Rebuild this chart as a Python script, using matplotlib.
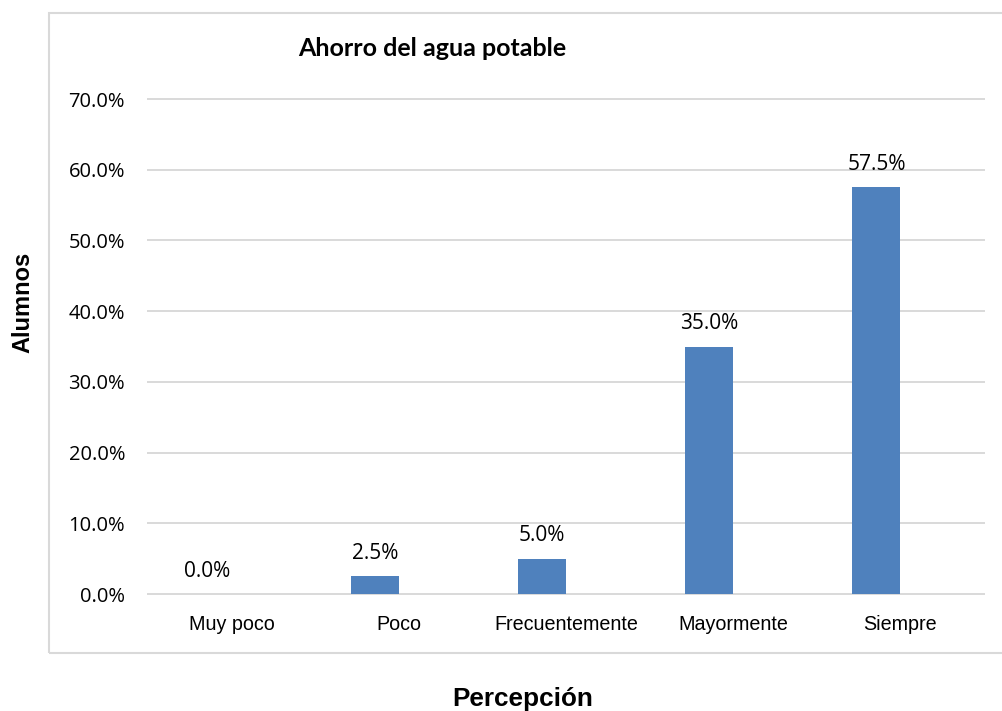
import matplotlib
matplotlib.use("Agg")
import matplotlib.pyplot as plt
from matplotlib import font_manager
from matplotlib.patches import Rectangle
from matplotlib.ticker import FuncFormatter

# data
categories = ["Muy poco", "Poco", "Frecuentemente", "Mayormente", "Siempre"]
values = [0.0, 0.025, 0.05, 0.35, 0.575]
y_ticks = [0.0, 0.1, 0.2, 0.3, 0.4, 0.5, 0.6, 0.7]

title = "Ahorro del agua potable"
x_title = "Percepción"
y_title = "Alumnos"

BAR_COLOR = "#4F81BD"
GRID_COLOR = "#D9D9D9"


def pick_font(*names):
    installed = {f.name for f in font_manager.fontManager.ttflist}
    for n in names:
        if n in installed:
            return n
    return "DejaVu Sans"


num_font = pick_font("Open Sans", "Noto Sans", "DejaVu Sans")
cat_font = pick_font("Liberation Sans Narrow", "Liberation Sans", "DejaVu Sans")
narrow = cat_font == "Liberation Sans Narrow"
axis_font = pick_font("Liberation Sans", "DejaVu Sans")
title_font = pick_font("Lato", "Open Sans", "DejaVu Sans")

W, H = 1002, 711
fig = plt.figure(figsize=(W / 100, H / 100), dpi=100)

# light grey chart border, right side runs off the picture
fig.patches.append(Rectangle((49 / W, 1 - 653 / H), 1.0, (653 - 13) / H,
                             transform=fig.transFigure, fill=False,
                             edgecolor=GRID_COLOR, linewidth=1.5))

ax = fig.add_axes([148 / W, 1 - 594 / H, 836 / W, 495 / H])

x = list(range(len(categories)))
width = 0.287
bar_x = [i - width / 2 for i in x]
bars = ax.bar(bar_x, values, width=width, color=BAR_COLOR, zorder=3)

for bx, v in zip(bar_x, values):
    ax.annotate(f"{v * 100:.1f}%", (bx, v), xytext=(0, 12.5),
                textcoords="offset points", ha="center", va="baseline",
                fontsize=15, family=num_font, color="#000000")

ax.set_xlim(-0.5, len(categories) - 0.5)
ax.set_ylim(0, 0.7)
ax.set_yticks(y_ticks)
ax.yaxis.set_major_formatter(FuncFormatter(lambda v, _: f"{v * 100:.1f}%"))
ax.set_xticks(x)
ax.set_xticklabels(categories)

for lab in ax.get_yticklabels():
    lab.set_fontfamily(num_font)
    lab.set_fontsize(14.5)
for lab in ax.get_xticklabels():
    lab.set_fontfamily(cat_font)
    lab.set_fontsize(16 if narrow else 14.2)

ax.tick_params(axis="y", length=0, pad=16.5, colors="#000000")
ax.tick_params(axis="x", length=0, pad=15, colors="#000000")
ax.yaxis.grid(True, color=GRID_COLOR, linewidth=1.4, zorder=0)
ax.set_axisbelow(True)
for s in ax.spines.values():
    s.set_visible(False)
for line in ax.get_ygridlines():
    line.set_clip_on(False)

fig.text(298 / W, 1 - 56 / H, title, ha="left", va="baseline",
         fontsize=18, fontweight="bold", family=title_font)
fig.text(523 / W, 1 - 706 / H, x_title, ha="center", va="baseline",
         fontsize=18.8, fontweight="bold", family=axis_font)
fig.text(23 / W, 1 - 302 / H, y_title, ha="center", va="center",
         rotation=90, fontsize=17, fontweight="bold", family=axis_font)

fig.savefig("out.png", dpi=100)
